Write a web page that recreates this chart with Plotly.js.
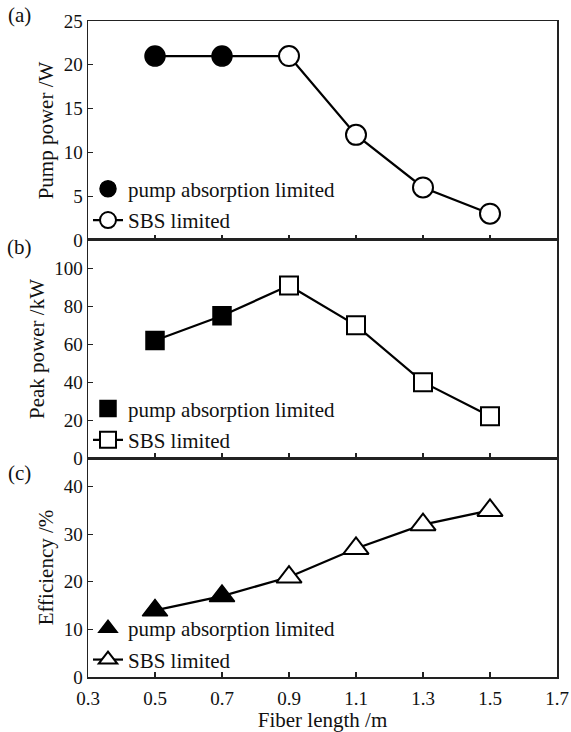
<!DOCTYPE html>
<html>
<head>
<meta charset="utf-8">
<script src="https://cdn.plot.ly/plotly-3.0.1.min.js"></script>
<style>html,body{margin:0;padding:0;background:#fff;}#chart{width:571px;height:732px;}</style>
</head>
<body>
<div id="chart"></div>
<script>
// Data
const fiberLength = [0.5, 0.7, 0.9, 1.1, 1.3, 1.5];
const pumpPower = [21, 21, 21, 12, 6, 3];      // W
const peakPower = [62, 75, 91, 70, 40, 22];    // kW
const efficiency = [14, 17, 21, 27, 32, 35];   // %
const nAbsorptionLimited = 2; // first points are pump-absorption limited
const xTicks = [0.3, 0.5, 0.7, 0.9, 1.1, 1.3, 1.5, 1.7];
const xTickText = ['0.3', '0.5', '0.7', '0.9', '1.1', '1.3', '1.5', '1.7'];
const seriesNames = ['pump absorption limited', 'SBS limited'];

const FONT = '"Liberation Serif", "Times New Roman", serif';
const panels = [
  {y: pumpPower, sym: 'circle', size: 20, xa: 'x', ya: 'y', leg: 'legend'},
  {y: peakPower, sym: 'square', size: 18, xa: 'x2', ya: 'y2', leg: 'legend2'},
  {y: efficiency, sym: 'triangle-up', size: 22, xa: 'x3', ya: 'y3', leg: 'legend3'}
];

const traces = [];
panels.forEach((p, i) => {
  // connector from the absorption-limited points to the first SBS point
  traces.push({
    x: fiberLength.slice(0, nAbsorptionLimited + 1), y: p.y.slice(0, nAbsorptionLimited + 1),
    xaxis: p.xa, yaxis: p.ya, mode: 'lines',
    line: {color: '#000', width: 2.2}, showlegend: false, hoverinfo: 'skip'
  });
  traces.push({
    x: fiberLength.slice(0, nAbsorptionLimited), y: p.y.slice(0, nAbsorptionLimited),
    xaxis: p.xa, yaxis: p.ya, mode: 'markers', name: seriesNames[0],
    legend: p.leg, legendgroup: 'g1_' + i,
    marker: {symbol: p.sym, size: p.size, color: '#000', line: {color: '#000', width: 1.5}}
  });
  traces.push({
    x: fiberLength.slice(nAbsorptionLimited), y: p.y.slice(nAbsorptionLimited),
    xaxis: p.xa, yaxis: p.ya, mode: 'lines+markers', name: seriesNames[1],
    legend: p.leg, legendgroup: 'g2_' + i,
    line: {color: '#000', width: 2.2},
    marker: {symbol: p.sym, size: p.size, color: '#fff', line: {color: '#000', width: 2}}
  });
});

const axisCommon = {
  showline: true, linecolor: '#222', linewidth: 1.5, mirror: true,
  ticks: 'inside', ticklen: 5, tickwidth: 1.2, tickcolor: '#222',
  showgrid: false, zeroline: false,
  tickfont: {family: FONT, size: 19, color: '#111'}
};
function xAxis(anchor, labels) {
  return Object.assign({}, axisCommon, {
    anchor: anchor, domain: [0, 1], range: [0.3, 1.7],
    tickmode: 'array', tickvals: xTicks, ticktext: xTickText,
    showticklabels: labels, ticklabelstandoff: 4
  });
}
function yAxis(anchor, domain, range, dtick, title) {
  return Object.assign({}, axisCommon, {
    anchor: anchor, domain: domain, range: range, dtick: dtick, tick0: 0,
    title: {text: title, font: {family: FONT, size: 21, color: '#111'}, standoff: 4}
  });
}
function legendAt(y) {
  return {
    x: 0.0, y: y, xanchor: 'left', yanchor: 'top',
    bgcolor: 'rgba(255,255,255,0)', borderwidth: 0,
    font: {family: FONT, size: 21, color: '#111'},
    traceorder: 'grouped', tracegroupgap: 1, itemwidth: 30
  };
}

const layout = {
  width: 571, height: 732,
  margin: {l: 88, r: 14, t: 21, b: 55},
  paper_bgcolor: '#fff', plot_bgcolor: '#fff',
  showlegend: true,
  xaxis: xAxis('y', false),
  yaxis: yAxis('x', [0.6662, 1], [0, 25], 5, 'Pump power /W'),
  xaxis2: xAxis('y2', false),
  yaxis2: yAxis('x2', [0.3338, 0.6662], [0, 115], 20, 'Peak power /kW'),
  xaxis3: Object.assign(xAxis('y3', true), {
    title: {text: 'Fiber length /m', font: {family: FONT, size: 21, color: '#111'}, standoff: 0}
  }),
  yaxis3: yAxis('x3', [0, 0.3338], [0, 46], 10, 'Efficiency /%'),
  legend: legendAt(0.775),
  legend2: legendAt(0.44),
  legend3: legendAt(0.105),
  annotations: [
    {text: '(a)', xref: 'paper', yref: 'paper', x: -0.145, y: (677 - 15) / 656, xanchor: 'center', yanchor: 'middle', showarrow: false, font: {family: FONT, size: 21, color: '#111'}},
    {text: '(b)', xref: 'paper', yref: 'paper', x: -0.145, y: (677 - 247) / 656, xanchor: 'center', yanchor: 'middle', showarrow: false, font: {family: FONT, size: 21, color: '#111'}},
    {text: '(c)', xref: 'paper', yref: 'paper', x: -0.145, y: (677 - 473) / 656, xanchor: 'center', yanchor: 'middle', showarrow: false, font: {family: FONT, size: 21, color: '#111'}}
  ]
};

Plotly.newPlot('chart', traces, layout, {staticPlot: true, displayModeBar: false});
</script>
</body>
</html>
